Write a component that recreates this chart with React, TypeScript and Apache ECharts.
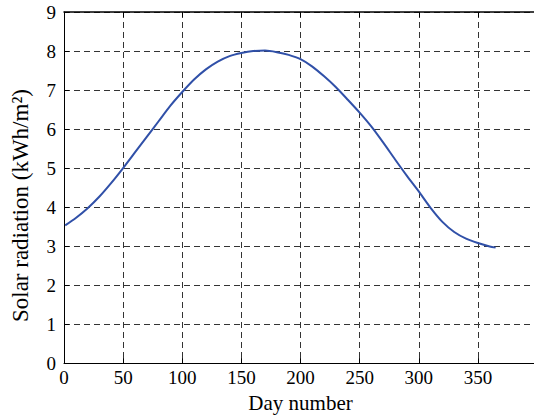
import React, { useEffect, useRef } from "react";
import * as echarts from "echarts";

const days = [1, 10, 20, 30, 40, 50, 60, 70, 80, 90, 100, 110, 120, 130, 140, 150, 160, 170, 180, 190, 200, 210, 220, 230, 240, 250, 260, 270, 280, 290, 300, 310, 320, 330, 340, 350, 360, 365];
const radiation = [3.53, 3.72, 3.97, 4.27, 4.62, 5.0, 5.4, 5.8, 6.2, 6.6, 6.95, 7.27, 7.53, 7.73, 7.87, 7.95, 8.0, 8.01, 7.97, 7.9, 7.79, 7.6, 7.35, 7.07, 6.75, 6.42, 6.06, 5.65, 5.22, 4.8, 4.4, 3.98, 3.62, 3.36, 3.19, 3.08, 2.99, 2.96];
const xTickMax = 400;
const xTickStep = 50;
const yTickMax = 9;
const yTickStep = 1;

const FONT = "Liberation Serif";

export default function App() {
  const ref = useRef<HTMLDivElement>(null);
  useEffect(() => {
    if (!ref.current) return;
    const chart = echarts.init(ref.current, null, { renderer: "svg" });
    const grid = { lineStyle: { color: "#333", type: [6, 4] as any, width: 1 } };
    chart.setOption({
      animation: false,
      backgroundColor: "#fff",
      textStyle: { fontFamily: FONT },
      grid: { left: 64, top: 12, right: 3, bottom: 52 },
      xAxis: [
        {
          type: "value",
          min: 0,
          max: xTickMax,
          interval: xTickStep,
          name: "Day number",
          nameLocation: "middle",
          nameGap: 27,
          nameTextStyle: { fontFamily: FONT, fontSize: 21, color: "#000" },
          axisLine: { show: true, lineStyle: { color: "#000", width: 1 } },
          axisTick: { show: true, inside: true, length: 5, lineStyle: { color: "#000" } },
          axisLabel: {
            fontFamily: FONT,
            fontSize: 19,
            color: "#000",
            margin: 5,
            formatter: (v: number) => (v === xTickMax ? "" : String(v)),
          },
          splitLine: { show: true, ...grid },
        },
        {
          type: "value",
          position: "top",
          min: 0,
          max: xTickMax,
          interval: xTickStep,
          axisLine: { show: true, lineStyle: { color: "#000", width: 1.5 } },
          axisTick: { show: true, inside: true, length: 5, lineStyle: { color: "#000" } },
          axisLabel: { show: false },
          splitLine: { show: false },
        },
      ],
      yAxis: {
        type: "value",
        min: 0,
        max: yTickMax,
        interval: yTickStep,
        name: "Solar radiation (kWh/m²)",
        nameLocation: "middle",
        nameGap: 32,
        nameTextStyle: { fontFamily: FONT, fontSize: 23, color: "#000", padding: [0, 36, 0, 0] },
        axisLine: { show: true, lineStyle: { color: "#000", width: 1 } },
        axisTick: { show: true, inside: true, length: 5, lineStyle: { color: "#000" } },
        axisLabel: { fontFamily: FONT, fontSize: 19, color: "#000", margin: 8 },
        splitLine: { show: true, ...grid },
      },
      series: [
        {
          type: "line",
          xAxisIndex: 0,
          data: days.map((d, i) => [d, radiation[i]]),
          smooth: 0.25,
          showSymbol: false,
          lineStyle: { color: "#3050a8", width: 2 },
        },
      ],
    });
    return () => chart.dispose();
  }, []);
  return (
    <div style={{ position: "fixed", left: 0, top: 0, width: 534, height: 418, overflow: "hidden", background: "#fff" }}>
      <div ref={ref} style={{ width: 540, height: 418 }} />
    </div>
  );
}
